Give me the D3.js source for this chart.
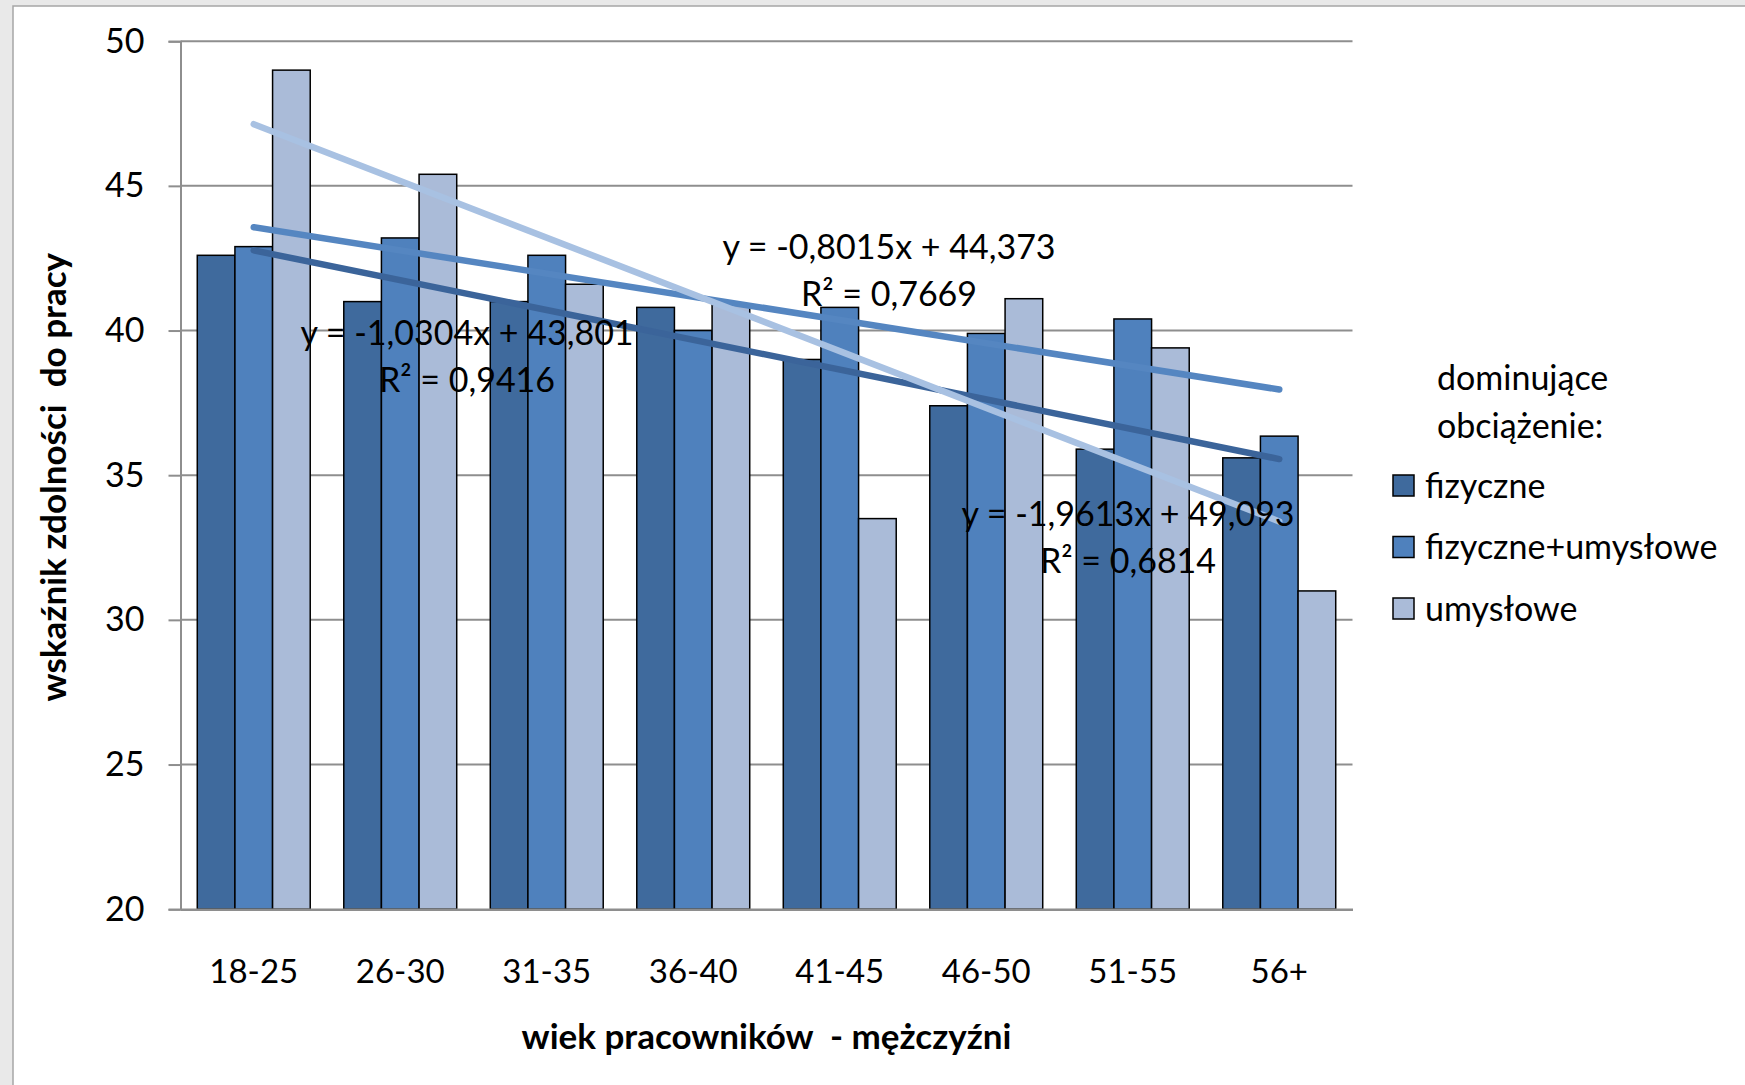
<!DOCTYPE html>
<html>
<head>
<meta charset="utf-8">
<script src="https://cdn.jsdelivr.net/npm/d3@7"></script>
<style>
  html, body { margin: 0; padding: 0; background: #e9e9e9; }
  svg { display: block; }
  text { font-family: Lato, "Open Sans", sans-serif; fill: #000; }
</style>
</head>
<body>
<svg id="chart" width="1745" height="1085"></svg>
<script>
// ---- data ----
const categories = ["18-25", "26-30", "31-35", "36-40", "41-45", "46-50", "51-55", "56+"];
const seriesNames = ["fizyczne", "fizyczne+umysłowe", "umysłowe"];
const fizyczne = [42.6, 41.0, 41.0, 40.8, 39.0, 37.4, 35.9, 35.6];
const fizyczneUmyslowe = [42.9, 43.2, 42.6, 40.0, 40.8, 39.9, 40.4, 36.35];
const umyslowe = [49.0, 45.4, 41.6, 40.9, 33.5, 41.1, 39.4, 31.0];
const trendSlopes = [-1.0304, -0.8015, -1.9613];
const trendIntercepts = [43.801, 44.373, 49.093];
const trendR2 = [0.9416, 0.7669, 0.6814];
const yTicks = [20, 25, 30, 35, 40, 45, 50];
const yTitle = "wskaźnik zdolności  do pracy";
const xTitle = "wiek pracowników  - mężczyźni";
const legendTitle = ["dominujące", "obciążenie:"];

(function () {
// ---- styles ----
const barColors = ["#3F6A9D", "#4F81BD", "#AABBD8"];
const trendColors = ["#3B649A", "#5586C1", "#A8C1E2"];
const trendLabelPos = [[467, 333], [889, 247], [1128, 514]];

const seriesValues = [fizyczne, fizyczneUmyslowe, umyslowe];

const svg = d3.select("#chart");

// frame
svg.append("rect").attr("x", 0).attr("y", 0).attr("width", 1745).attr("height", 1085).attr("fill", "#e9e9e9");
svg.append("rect").attr("x", 13).attr("y", 6).attr("width", 1745).attr("height", 1100)
  .attr("fill", "#fff").attr("stroke", "#a6a6a6").attr("stroke-width", 1.5);

const pL = 180.5, pR = 1352.5, pT = 41.2, pB = 909.2;

const x0 = d3.scaleBand().domain(categories).range([pL, pR]).paddingInner(0.229).paddingOuter(0.1145);
const x1 = d3.scaleBand().domain(seriesNames).range([0, x0.bandwidth()]);
const y = d3.scaleLinear().domain([20, 50]).range([pB, pT]);

// gridlines
svg.append("g").selectAll("line").data(yTicks.slice(1)).join("line")
  .attr("x1", pL).attr("x2", pR)
  .attr("y1", d => y(d)).attr("y2", d => y(d))
  .attr("stroke", "#8e8e8e").attr("stroke-width", 2);

// y axis
const yAxis = svg.append("g").attr("transform", `translate(${pL},0)`)
  .call(d3.axisLeft(y).tickValues(yTicks).tickSize(12).tickPadding(24).tickFormat(d3.format("d")));
yAxis.select(".domain").attr("stroke", "#8e8e8e").attr("stroke-width", 2);
yAxis.selectAll(".tick line").attr("stroke", "#8e8e8e").attr("stroke-width", 2);
yAxis.selectAll(".tick text").attr("font-size", 34).attr("font-family", "Lato, sans-serif").attr("fill", "#000");

// bars
const groups = svg.append("g").selectAll("g").data(categories).join("g")
  .attr("transform", d => `translate(${x0(d)},0)`);
groups.selectAll("rect").data((c, i) => seriesNames.map((s, j) => ({ s, j, v: seriesValues[j][i] })))
  .join("rect")
  .attr("x", d => x1(d.s))
  .attr("width", x1.bandwidth())
  .attr("y", d => y(d.v))
  .attr("height", d => y(20) - y(d.v))
  .attr("fill", d => barColors[d.j])
  .attr("stroke", "#000").attr("stroke-width", 1.5);

// x axis
const xAxis = svg.append("g").attr("transform", `translate(0,${pB})`)
  .call(d3.axisBottom(x0).tickSize(0).tickPadding(50));
xAxis.select(".domain").attr("stroke", "#8e8e8e").attr("stroke-width", 2.5);
xAxis.selectAll(".tick text").attr("font-size", 33).attr("font-family", "Lato, sans-serif").attr("fill", "#000");

// trend lines
const cx = c => x0(c) + x0.bandwidth() / 2;
const trendLine = d3.line().x(d => d[0]).y(d => y(d[1]));
seriesNames.forEach((s, j) => {
  const pts = [1, categories.length].map(k => [cx(categories[k - 1]), trendSlopes[j] * k + trendIntercepts[j]]);
  svg.append("path").attr("d", trendLine(pts))
    .attr("fill", "none").attr("stroke", trendColors[j]).attr("stroke-width", 6.5)
    .attr("stroke-linecap", "round");
});

// trend labels
const fmt = v => String(v).replace(".", ",");
seriesNames.forEach((s, j) => {
  const [lx, ly] = trendLabelPos[j];
  const sign = trendIntercepts[j] >= 0 ? "+" : "-";
  svg.append("text").attr("x", lx).attr("y", ly).attr("dy", "0.35em").attr("text-anchor", "middle")
    .attr("font-size", 34).style("white-space", "pre")
    .text(`y = ${fmt(trendSlopes[j])}x ${sign} ${fmt(Math.abs(trendIntercepts[j]))}`);
  svg.append("text").attr("x", lx).attr("y", ly + 47).attr("dy", "0.35em").attr("text-anchor", "middle")
    .attr("font-size", 34).style("white-space", "pre")
    .text(`R² = ${fmt(trendR2[j])}`);
});

// axis titles
svg.append("text").attr("x", (pL + pR) / 2).attr("y", 1037).attr("dy", "0.35em")
  .attr("text-anchor", "middle").attr("font-size", 35).attr("font-weight", "bold")
  .style("white-space", "pre").text(xTitle);
svg.append("text").attr("transform", `translate(54,${(pT + pB) / 2 + 2}) rotate(-90)`)
  .attr("dy", "0.35em").attr("text-anchor", "middle").attr("font-size", 35).attr("font-weight", "bold")
  .style("white-space", "pre").text(yTitle);

// legend
legendTitle.forEach((t, i) => {
  svg.append("text").attr("x", 1437).attr("y", 378 + i * 48).attr("dy", "0.35em")
    .attr("font-size", 34).text(t);
});
const lg = svg.append("g").selectAll("g").data(seriesNames).join("g")
  .attr("transform", (d, i) => `translate(1393,${486 + i * 61.5})`);
lg.append("rect").attr("x", 0).attr("y", -11).attr("width", 21).attr("height", 21)
  .attr("fill", (d, i) => barColors[i]).attr("stroke", "#000").attr("stroke-width", 1.5);
lg.append("text").attr("x", 32).attr("y", 0).attr("dy", "0.35em").attr("font-size", 34).text(d => d);
})();
</script>
</body>
</html>
